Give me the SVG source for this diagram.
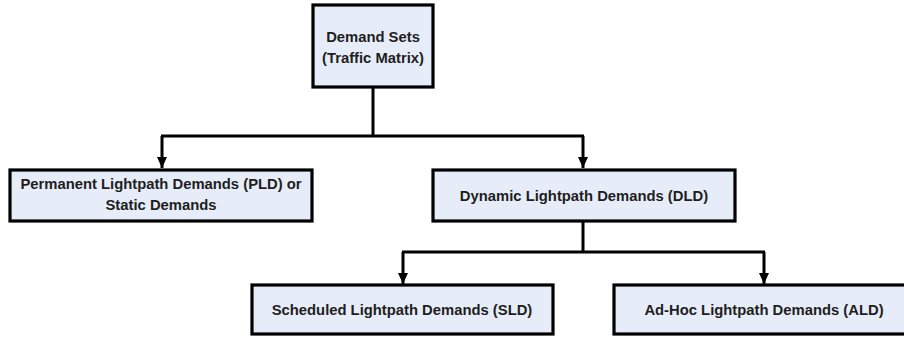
<svg xmlns="http://www.w3.org/2000/svg" width="904" height="337" viewBox="0 0 904 337">
<style>
.box{fill:#E7EDF8;stroke:#000;stroke-width:3.2}
.lbl{font-family:"Liberation Sans",Arial,sans-serif;font-weight:bold;font-size:14.8px;fill:#1e1e1e;text-anchor:middle}
.con{fill:none;stroke:#000;stroke-width:3}
</style>
<defs>
<marker id="arr" markerUnits="userSpaceOnUse" markerWidth="12" markerHeight="12" viewBox="0 0 12 12" refX="11" refY="6" orient="auto">
<path d="M0,1 L11,6 L0,11 Z" fill="#000"/>
</marker>
</defs>
<rect width="904" height="337" fill="#fff"/>
<g id="connectors">
<path class="con" d="M373,87 V136"/>
<path class="con" d="M161,136 H584"/>
<path class="con" d="M162,136 V168" marker-end="url(#arr)"/>
<path class="con" d="M583,136 V168" marker-end="url(#arr)"/>
<path class="con" d="M583,222 V252"/>
<path class="con" d="M402,252 H765"/>
<path class="con" d="M403,252 V284" marker-end="url(#arr)"/>
<path class="con" d="M764,252 V284" marker-end="url(#arr)"/>
</g>
<g id="demand-sets">
<rect class="box" x="313" y="5" width="120" height="82"/>
<text class="lbl" x="373" y="42">Demand Sets</text>
<text class="lbl" x="373" y="63">(Traffic Matrix)</text>
</g>
<g id="pld">
<rect class="box" x="10" y="170" width="302" height="51"/>
<text class="lbl" x="161" y="189">Permanent Lightpath Demands (PLD) or</text>
<text class="lbl" x="161" y="210">Static Demands</text>
</g>
<g id="dld">
<rect class="box" x="433" y="170" width="302" height="51"/>
<text class="lbl" x="584" y="201">Dynamic Lightpath Demands (DLD)</text>
</g>
<g id="sld">
<rect class="box" x="252" y="285" width="301" height="49"/>
<text class="lbl" x="402" y="315">Scheduled Lightpath Demands (SLD)</text>
</g>
<g id="ald">
<rect class="box" x="614" y="285" width="300" height="49"/>
<text class="lbl" x="764" y="315">Ad-Hoc Lightpath Demands (ALD)</text>
</g>
</svg>
